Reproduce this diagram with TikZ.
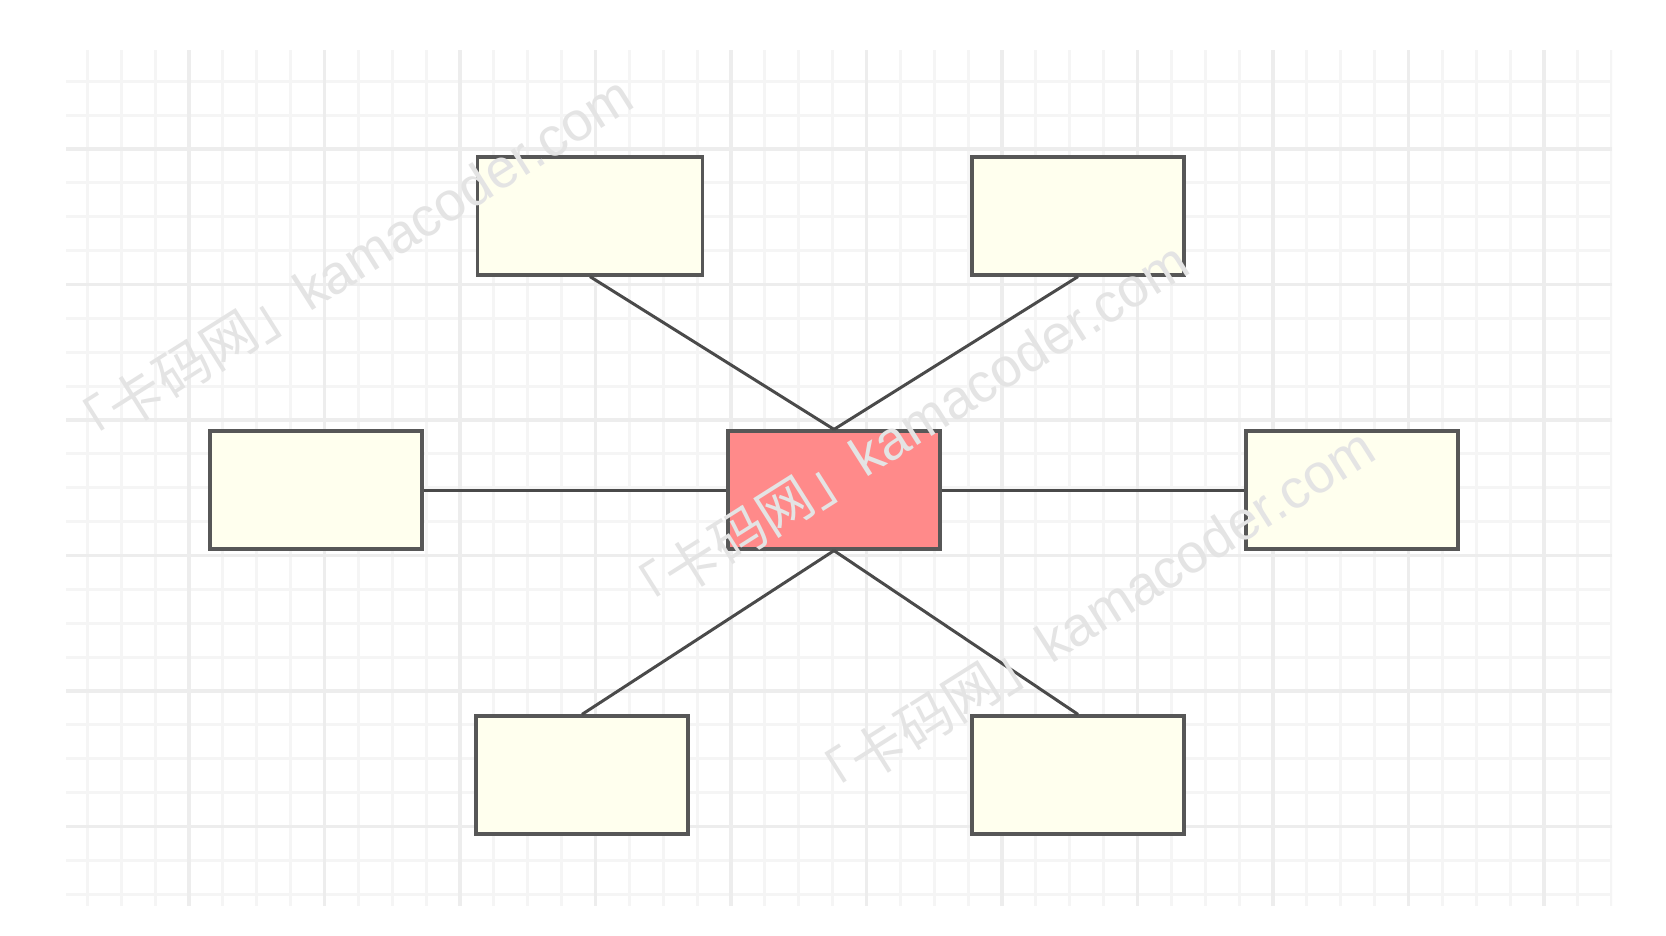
\documentclass[tikz,border=0pt]{standalone}
\usepackage{fontspec}
\setmainfont{Liberation Sans}
\newfontfamily\cjk{Noto Sans CJK SC}
\usetikzlibrary{positioning}

\definecolor{leaffill}{HTML}{FFFFEE}
\definecolor{hubfill}{HTML}{FF8A8A}
\definecolor{edgegray}{HTML}{575757}
\definecolor{linkgray}{HTML}{4A4A4A}
\definecolor{gridminor}{HTML}{F5F5F5}
\definecolor{gridmajor}{HTML}{EDEDED}
\definecolor{markgray}{HTML}{E4E4E4}

\tikzset{
  leaf/.style={draw=edgegray, fill=leaffill, line width=0.9pt, minimum width=2.12cm, minimum height=1.18cm, inner sep=0pt},
  hub/.style={leaf, fill=hubfill},
  link/.style={draw=linkgray, line width=0.85pt},
  watermark/.style={text=markgray, font=\fontsize{15.6}{18}\selectfont, rotate=32.3, inner sep=0pt}
}

\begin{document}
\begin{tikzpicture}[x=0.01cm, y=-0.01cm]
\useasboundingbox (0,0) rectangle (1666,936);
\fill[white] (0,0) rectangle (1666,936);

% grid paper
\begin{scope}
\clip (66,50) rectangle (1612,906);
\foreach \i in {-4,...,42} \draw[gridminor, line width=0.8pt] ({189+33.875*\i},50) -- ({189+33.875*\i},906);
\foreach \i in {-3,...,22} \draw[gridminor, line width=0.8pt] (66,{149+33.875*\i}) -- (1612,{149+33.875*\i});
\foreach \k in {-1,...,10} \draw[gridmajor, line width=1pt] ({189+135.5*\k},50) -- ({189+135.5*\k},906);
\foreach \k in {-1,...,6} \draw[gridmajor, line width=1pt] (66,{149+135.5*\k}) -- (1612,{149+135.5*\k});
\end{scope}

% boxes
\node[hub] (hub) at (834,490) {};
\node[leaf, minimum width=2.25cm] (tl) at (590,216) {};
\node[leaf] (tr) at (1078,216) {};
\node[leaf] (lf) at (316,490) {};
\node[leaf] (rt) at (1352,490) {};
\node[leaf] (bl) at (582,775) {};
\node[leaf] (br) at (1078,775) {};

% links
\draw[link] (hub.north) -- (tl.south);
\draw[link] (hub.north) -- (tr.south);
\draw[link] (lf.east) -- (hub.west);
\draw[link] (hub.east) -- (rt.west);
\draw[link] (hub.south) -- (bl.north);
\draw[link] (hub.south) -- (br.north);

% watermark
\node[watermark] (mark1) at (346,265) {{\cjk 「卡码网」}kamacoder.com};
\node[watermark] (mark2) at (902,431) {{\cjk 「卡码网」}kamacoder.com};
\node[watermark] (mark3) at (1088,617) {{\cjk 「卡码网」}kamacoder.com};
\end{tikzpicture}
\end{document}
